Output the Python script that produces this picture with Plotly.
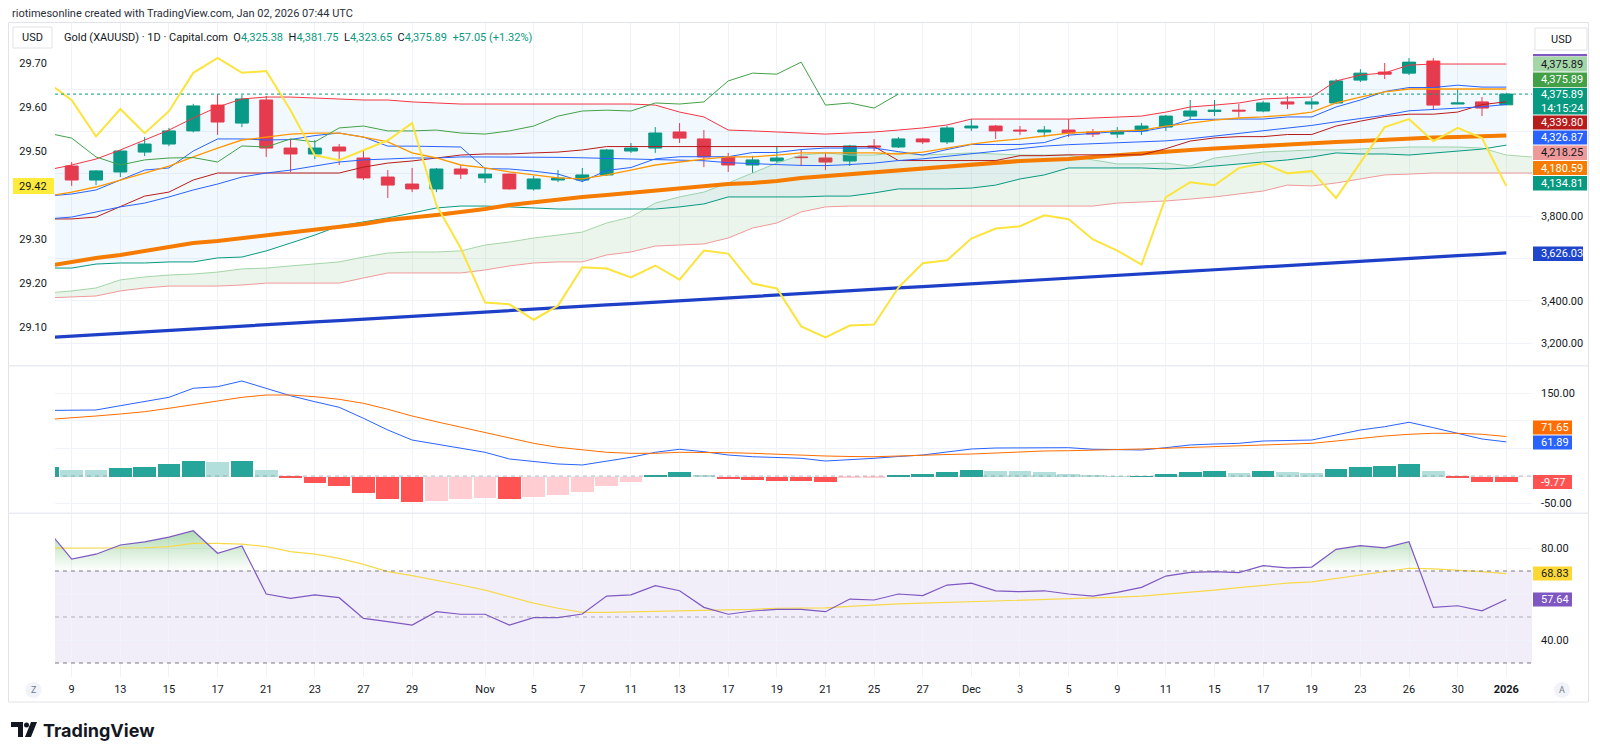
import plotly.graph_objects as go

W, H = 1600, 756
X_LEFT, X_RIGHT = 55, 1532
BAR0, BAR_W = 71.7, 24.315
FONT = "Roboto, Arial, sans-serif"
TXT = "#131722"

def px(x):
    return x / W

def py(y):
    return 1 - y / H

# ---------------- data ----------------
tick_idx = [0, 2, 4, 6, 8, 10, 12, 14, 17, 19, 21, 23, 25, 27, 29, 31, 33, 35, 37,
            39, 41, 43, 45, 47, 49, 51, 53, 55, 57, 59]
tick_text = ["9", "13", "15", "17", "21", "23", "27", "29", "Nov", "5", "7", "11", "13",
             "17", "19", "21", "25", "27", "Dec", "3", "5", "9", "11", "15", "17", "19",
             "23", "26", "30", "<b>2026</b>"]

open_ = [4036, 3970, 4008, 4102, 4140, 4202, 4324, 4239, 4348, 4121, 4093, 4126, 4074, 3984,
         3951, 3928, 4022, 3980, 3998, 3928, 3970, 3970, 3994, 4107, 4121, 4197, 4164, 4079,
         4041, 4060, 4079, 4074, 4060, 4131, 4126, 4164, 4150, 4216, 4225, 4206, 4197, 4206,
         4197, 4187, 4202, 4220, 4272, 4294, 4300, 4296, 4339, 4329, 4334, 4442, 4480, 4475,
         4532, 4329, 4339, 4325.38]
high_ = [4055, 4017, 4112, 4173, 4216, 4330, 4376, 4371, 4367, 4164, 4159, 4140, 4112, 4017,
         4027, 4027, 4041, 4027, 4000, 3990, 4017, 4027, 4117, 4145, 4220, 4239, 4206, 4098,
         4084, 4126, 4112, 4098, 4136, 4164, 4173, 4169, 4225, 4258, 4230, 4225, 4225, 4258,
         4211, 4220, 4240, 4277, 4348, 4348, 4329, 4343, 4367, 4357, 4447, 4494, 4523, 4546,
         4546, 4400, 4362, 4381.75]
low_ = [3942, 3946, 3984, 4083, 4130, 4195, 4183, 4220, 4079, 4008, 4069, 4041, 3970, 3885,
        3913, 3913, 3975, 3956, 3925, 3920, 3960, 3960, 3990, 4098, 4098, 4145, 4031, 4008,
        4003, 4050, 4036, 4017, 4036, 4107, 4121, 4140, 4140, 4202, 4164, 4183, 4173, 4173,
        4173, 4169, 4183, 4202, 4253, 4272, 4268, 4290, 4305, 4305, 4329, 4433, 4447, 4466,
        4301, 4329, 4272, 4323.65]
close_ = [3970, 4013, 4107, 4140, 4202, 4320, 4244, 4353, 4121, 4093, 4121, 4107, 3980, 3946,
          3928, 4022, 3998, 3998, 3928, 3975, 3979, 3994, 4112, 4121, 4192, 4168, 4079, 4041,
          4065, 4074, 4076, 4055, 4131, 4126, 4164, 4150, 4216, 4225, 4202, 4202, 4206, 4192,
          4187, 4202, 4225, 4272, 4296, 4300, 4296, 4334, 4329, 4339, 4438, 4475, 4470, 4527,
          4324, 4334, 4310, 4375.89]
change_abs, change_pct = 57.05, 1.32
countdown = "14:15:24"
span_b_label = 4218.25

# scale ticks (grid at all); labels hidden where TradingView's value tags cover them
price_ticks = [3200, 3400, 3600, 3800, 4000, 4200, 4400]
price_ticks_shown = [3200, 3400, 3800]
left_ticks = [29.1, 29.2, 29.3, 29.4, 29.5, 29.6, 29.7]
left_ticks_shown = [29.1, 29.2, 29.3, 29.5, 29.6, 29.7]
macd_ticks = [-50, 0, 50, 100, 150]
macd_ticks_shown = [-50, 150]
rsi_ticks = [40, 60, 80]
rsi_ticks_shown = [40, 80]

# indicators from bar -1 (Oct 8) to bar 59 (Jan 2)
bb_upper = [4017, 4041, 4069, 4112, 4159, 4206, 4263, 4315, 4353, 4362, 4362, 4357, 4353, 4348,
            4348, 4339, 4334, 4329, 4329, 4329, 4329, 4329, 4329, 4329, 4329, 4324, 4291, 4268,
            4206, 4202, 4197, 4192, 4187, 4192, 4197, 4206, 4216, 4230, 4258, 4258, 4258, 4258,
            4258, 4263, 4268, 4272, 4291, 4315, 4324, 4334, 4353, 4357, 4362, 4438, 4466, 4476,
            4513, 4518, 4518, 4518, 4518]
bb_basis = [3786, 3795, 3819, 3843, 3861, 3890, 3923, 3951, 3984, 4003, 4017, 4036, 4055, 4065,
            4069, 4074, 4074, 4079, 4079, 4079, 4078, 4077, 4075, 4072, 4070, 4068, 4066, 4061,
            4052, 4046, 4043, 4039, 4038, 4043, 4050, 4062, 4070, 4082, 4094, 4105, 4116, 4130,
            4137, 4142, 4147, 4150, 4155, 4165, 4178, 4190, 4204, 4215, 4228, 4245, 4262, 4276,
            4297, 4303, 4310, 4316, 4326.87]
bb_lower = [3554, 3554, 3573, 3578, 3578, 3583, 3583, 3602, 3606, 3635, 3672, 3710, 3753, 3772,
            3791, 3814, 3838, 3847, 3847, 3843, 3838, 3833, 3833, 3833, 3833, 3833, 3843, 3857,
            3890, 3890, 3890, 3890, 3894, 3894, 3909, 3928, 3928, 3928, 3932, 3946, 3975, 3994,
            4027, 4027, 4027, 4027, 4022, 4027, 4036, 4046, 4055, 4065, 4079, 4098, 4093, 4093,
            4088, 4098, 4107, 4116, 4134.81]
tenkan = [3894, 3904, 3923, 3970, 4017, 4027, 4107, 4164, 4164, 4159, 4161, 4180, 4192, 4173,
          4130, 4130, 4128, 4126, 4024, 4022, 4012, 3998, 3963, 4015, 4029, 4070, 4080, 4080,
          4080, 4100, 4100, 4114, 4121, 4121, 4121, 4104, 4088, 4114, 4138, 4138, 4138, 4147,
          4182, 4190, 4199, 4199, 4220, 4256, 4258, 4258, 4258, 4268, 4268, 4315, 4348, 4388,
          4407, 4407, 4418, 4409, 4409]
kijun = [3786, 3786, 3795, 3843, 3894, 3913, 3970, 4003, 4003, 4003, 4003, 4003, 4003, 4031,
         4050, 4060, 4074, 4088, 4093, 4093, 4098, 4102, 4112, 4128, 4128, 4128, 4128, 4128,
         4128, 4128, 4128, 4128, 4128, 4128, 4128, 4062, 4062, 4062, 4062, 4062, 4085, 4085,
         4089, 4089, 4089, 4089, 4118, 4154, 4169, 4175, 4175, 4185, 4185, 4225, 4248, 4270,
         4281, 4281, 4291, 4326, 4339.80]
ema_fast = [3894, 3913, 3937, 3970, 4003, 4036, 4079, 4121, 4159, 4173, 4187, 4192, 4192, 4173,
            4150, 4098, 4074, 4041, 4027, 4008, 3994, 3980, 3975, 3994, 4017, 4041, 4055, 4069,
            4079, 4079, 4088, 4098, 4098, 4098, 4098, 4093, 4102, 4121, 4140, 4154, 4164, 4178,
            4192, 4197, 4202, 4206, 4225, 4239, 4253, 4263, 4268, 4277, 4291, 4334, 4362, 4386,
            4400, 4400, 4400, 4400, 4400]
ema_slow = [3564, 3583, 3602, 3616, 3635, 3654, 3672, 3682, 3696, 3710, 3722, 3734, 3748, 3762,
            3781, 3791, 3805, 3819, 3833, 3852, 3866, 3880, 3890, 3899, 3909, 3923, 3932, 3942,
            3951, 3956, 3965, 3980, 3989, 3998, 4008, 4017, 4022, 4031, 4041, 4050, 4060, 4065,
            4069, 4079, 4088, 4098, 4105, 4112, 4119, 4126, 4131, 4138, 4145, 4150, 4154, 4159,
            4168, 4171, 4173, 4176, 4180.59]
sma_long = [3226, 3233, 3240, 3246, 3253, 3260, 3266, 3273, 3280, 3286, 3293, 3300, 3306, 3313,
            3320, 3326, 3333, 3340, 3346, 3353, 3360, 3366, 3373, 3380, 3386, 3393, 3400, 3406,
            3413, 3420, 3426, 3433, 3440, 3446, 3453, 3460, 3466, 3473, 3480, 3486, 3493, 3500,
            3506, 3513, 3520, 3526, 3533, 3540, 3546, 3553, 3560, 3566, 3573, 3580, 3586, 3593,
            3600, 3606, 3613, 3619, 3626.03]
yellow_left = [29.656, 29.615, 29.533, 29.595, 29.540, 29.590, 29.677, 29.711, 29.677, 29.681,
               29.592, 29.490, 29.479, 29.502, 29.524, 29.563, 29.377, 29.279, 29.156, 29.152,
               29.117, 29.149, 29.236, 29.233, 29.213, 29.240, 29.208, 29.274, 29.267, 29.199,
               29.188, 29.102, 29.077, 29.104, 29.106, 29.190, 29.245, 29.252, 29.301, 29.324,
               29.329, 29.354, 29.345, 29.299, 29.274, 29.242, 29.395, 29.429, 29.422, 29.461,
               29.472, 29.449, 29.454, 29.393, 29.474, 29.554, 29.572, 29.522, 29.552, 29.529,
               29.42]
# leading spans: bar -1 to bar 61
span_a = [3436, 3446, 3460, 3498, 3512, 3521, 3526, 3535, 3550, 3554, 3564, 3573, 3583, 3606,
          3625, 3630, 3630, 3635, 3663, 3677, 3696, 3710, 3724, 3767, 3795, 3861, 3890, 3913,
          3956, 4003, 4050, 4088, 4098, 4088, 4088, 4098, 4088, 4093, 4098, 4093, 4088, 4088,
          4088, 4065, 4046, 4046, 4050, 4036, 4074, 4088, 4102, 4107, 4112, 4112, 4116, 4121,
          4126, 4126, 4126, 4121, 4088, 4079, 4074]
span_b = [3413, 3417, 3422, 3446, 3460, 3469, 3469, 3469, 3474, 3483, 3483, 3483, 3483, 3507,
          3531, 3531, 3531, 3531, 3545, 3564, 3578, 3583, 3583, 3616, 3630, 3658, 3663, 3668,
          3696, 3743, 3767, 3819, 3843, 3847, 3847, 3847, 3847, 3847, 3847, 3847, 3847, 3847,
          3847, 3847, 3861, 3866, 3871, 3880, 3890, 3904, 3918, 3946, 3942, 3956, 3975, 3994,
          3998, 4003, 4003, 4003, 4003, 4003, 4003]
macd_line = [119, 118.9, 119.8, 127.6, 134.8, 142.8, 159.2, 162.1, 172.4, 159.2, 145.7, 134.8,
             124.7, 104.7, 83.5, 65.3, 58.1, 50.3, 43, 30.9, 26, 21.8, 20, 27.2, 33.9, 43, 48.5,
             44.1, 38.1, 35, 33.2, 32.1, 27.2, 29, 32.1, 35.4, 38.1, 43.6, 49, 50.8, 51.4, 51.4,
             51.4, 48.5, 47.2, 47.2, 51.4, 56.3, 58.1, 59.3, 63.5, 64.1, 65.3, 74.4, 83.5, 89.5,
             97.5, 87.7, 77.5, 67.2, 61.89]
macd_signal = [102.5, 105.3, 108.9, 112.5, 116.7, 122.9, 130.1, 136.1, 142.8, 147, 147, 143.9,
               139.2, 131.9, 121.1, 108.9, 98.5, 88.4, 79.3, 68.4, 59.3, 52.1, 47.2, 43, 41.2,
               41.2, 43, 43, 42.3, 41.2, 39.4, 38.1, 36.3, 35.4, 35, 36.3, 38.1, 39, 39.9, 41.7,
               44.1, 45.4, 45.9, 46.6, 47.2, 49, 50.3, 51.7, 53.2, 54.4, 56.3, 58.1, 59.3, 63.5,
               68.4, 72.6, 75.7, 77.5, 77.5, 75.7, 71.65]
macd_hist = [18, 12.7, 11, 16.3, 18, 21.8, 29, 26, 29, 12.7, -3, -10.9, -17.5, -30.2, -40.5,
             -46.6, -43.6, -41.7, -38.7, -40.5, -37.5, -33.8, -28.4, -17.5, -9.1, 2.4, 7.3, 2.4,
             -4.8, -6, -7.9, -8.3, -9.1, -3, -1.8, 3, 4.8, 7.9, 10.9, 10.3, 9.1, 7.3, 4.2, 1.8,
             0.3, 0.6, 4.2, 7.3, 9.1, 6.7, 9.1, 8.8, 6.7, 13.3, 18.1, 18.4, 21.8, 9.1, -3, -9.1,
             -9.77]
rsi = [88, 75.2, 77.3, 81.3, 82.7, 84.7, 87.5, 77.7, 80.9, 60, 58.1, 59.6, 58.4, 49.4, 48, 46.5,
       52.3, 51.2, 51.2, 46.5, 49.7, 49.7, 51.3, 59.1, 59.6, 63.6, 61.4, 54.2, 51.2, 52.6, 53.3,
       53.3, 52.3, 57.8, 57.4, 60, 59.3, 63.9, 64.7, 61.4, 61, 61.4, 60, 59.1, 60.7, 62.9, 67.8,
       69.4, 69.7, 69.3, 72.3, 71.4, 71.7, 79.4, 81, 80.1, 82.7, 54.2, 54.9, 52.7, 57.64]
rsi_ma = [79.9, 79.9, 79.9, 80, 80.1, 80.6, 82, 82, 81.7, 80.6, 78.4, 77.3, 75.5, 72.9, 69.7, 68,
          66.1, 63.9, 61.7, 58.8, 56, 53.8, 52, 52, 52.2, 52.3, 52.6, 52.7, 53, 53.3, 53.8, 53.8,
          54, 54.6, 55.2, 55.7, 56, 56.3, 56.7, 56.9, 57.1, 57.4, 57.7, 58.1, 58.6, 59.1, 59.9,
          60.7, 61.7, 62.8, 63.9, 64.7, 65.3, 66.7, 68.3, 69.7, 71.2, 70.9, 70.4, 69.7, 68.83]

bars = list(range(len(close_)))
ind_x = list(range(-1, len(close_)))
span_x = list(range(-1, len(span_a) - 1))
lag_start = 24
lag_x = [i - 25 for i in range(lag_start, len(close_))]
lag_y = close_[lag_start:]

# ---------------- pixel <-> value mappings for the panes ----------------
def price_at(y):
    return 3800 + (216 - y) * (600 / 127)

def left_at(y):
    return 29.70 - (y - 62.7) / 440.9

def macd_at(y):
    return (476 - y) / 0.551

def rsi_at(y):
    return 70 + (571 - y) / 2.3

MAIN = (22.5, 365)
MACD = (366.5, 512.5)
RSI = (514, 677)
x_range = [(X_LEFT - BAR0) / BAR_W, (X_RIGHT - BAR0) / BAR_W]

fig = go.Figure()

def line(x, y, color, width=1, xa="x", ya="y", **kw):
    fig.add_trace(go.Scatter(x=x, y=y, mode="lines", line=dict(color=color, width=width),
                             xaxis=xa, yaxis=ya, hoverinfo="skip", **kw))

# Ichimoku cloud
line(span_x, span_b, "#EF9A9A")
line(span_x, span_a, "#A5D6A7", fill="tonexty", fillcolor="rgba(67,160,71,0.10)")
# Bollinger band fill
line(ind_x, bb_lower, "#089981")
line(ind_x, bb_upper, "#F23645", fill="tonexty", fillcolor="rgba(33,150,243,0.06)")
line(ind_x, sma_long, "#1E40C8", 3.2)
line(ind_x, ema_slow, "#F57C00", 4)
line(ind_x, kijun, "#B71C1C")
line(ind_x, tenkan, "#2962FF")
line(ind_x, bb_basis, "#2962FF")
line(ind_x, ema_fast, "#FF9800", 1.3)
line(lag_x, lag_y, "#43A047")

fig.add_trace(go.Candlestick(
    x=bars, open=open_, high=high_, low=low_, close=close_, xaxis="x", yaxis="y",
    increasing=dict(line=dict(color="#089981", width=1), fillcolor="#089981"),
    decreasing=dict(line=dict(color="#F23645", width=1), fillcolor="#F23645"),
    whiskerwidth=0, hoverinfo="skip"))

line(ind_x, yellow_left, "#FBE43C", 2, ya="y4")

# MACD
hist_colors = []
prev = None
for v in macd_hist:
    if v >= 0:
        c = "#26A69A" if (prev is None or v >= prev) else "#B2DFDB"
    else:
        c = "#FF5252" if (prev is None or v <= prev) else "#FFCDD2"
    hist_colors.append(c)
    prev = v
fig.add_trace(go.Bar(x=ind_x, y=macd_hist, marker=dict(color=hist_colors, line=dict(width=0)),
                     width=0.93, xaxis="x2", yaxis="y2", hoverinfo="skip"))
line(ind_x, macd_line, "#2962FF", xa="x2", ya="y2")
line(ind_x, macd_signal, "#FF6D00", xa="x2", ya="y2")

# RSI overbought fill
ob_x, ob_y = [], []
lvl = 70
i = 0
n = len(rsi)
while i < n:
    if rsi[i] > lvl:
        if i == 0:
            pts = [(ind_x[0], lvl)]
        else:
            t = (lvl - rsi[i - 1]) / (rsi[i] - rsi[i - 1])
            pts = [(ind_x[i - 1] + t, lvl)]
        j = i
        while j < n and rsi[j] > lvl:
            pts.append((ind_x[j], rsi[j]))
            j += 1
        if j < n:
            t = (lvl - rsi[j - 1]) / (rsi[j] - rsi[j - 1])
            pts.append((ind_x[j - 1] + t, lvl))
        else:
            pts.append((ind_x[j - 1], lvl))
        ob_x += [p[0] for p in pts] + [None]
        ob_y += [p[1] for p in pts] + [None]
        i = j
    else:
        i += 1
fig.add_trace(go.Scatter(x=ob_x, y=ob_y, mode="lines", line=dict(width=0), fill="toself",
                         fillgradient=dict(type="vertical", start=70, stop=88,
                                           colorscale=[[0, "rgba(76,175,80,0.0)"],
                                                       [1, "rgba(76,175,80,0.45)"]]),
                         xaxis="x3", yaxis="y3", hoverinfo="skip"))
line(ind_x, rsi_ma, "#F7D94C", 1.2, xa="x3", ya="y3")
line(ind_x, rsi, "#7E57C2", 1.2, xa="x3", ya="y3")

# ---------------- axes ----------------
grid = "#F0F3FA"
xcommon = dict(range=x_range, domain=[px(X_LEFT), px(X_RIGHT)], tickvals=tick_idx,
               showgrid=True, gridcolor=grid, zeroline=False, showline=False, ticks="",
               fixedrange=True)
tickfont = dict(family=FONT, size=11, color=TXT)


def labels(vals, shown, f):
    return [format(v, f) if v in shown else "" for v in vals]


fig.update_layout(
    width=W, height=H, margin=dict(l=0, r=0, t=0, b=0), paper_bgcolor="white",
    plot_bgcolor="rgba(0,0,0,0)", showlegend=False, boxgap=0.24, bargap=0,
    xaxis=dict(**xcommon, anchor="y", showticklabels=False, rangeslider=dict(visible=False)),
    xaxis2=dict(**xcommon, anchor="y2", showticklabels=False, matches="x"),
    xaxis3=dict(**xcommon, anchor="y3", showticklabels=True, ticktext=tick_text,
                tickfont=tickfont, matches="x", ticklabelstandoff=4),
    yaxis=dict(domain=[py(MAIN[1]), py(MAIN[0])], range=[price_at(MAIN[1]), price_at(MAIN[0])],
               side="right", anchor="x", tickvals=price_ticks,
               ticktext=labels(price_ticks, price_ticks_shown, ",.2f"),
               showgrid=True, gridcolor=grid, zeroline=False, ticks="",
               tickfont=tickfont, ticklabelstandoff=8),
    yaxis4=dict(overlaying="y", side="left", anchor="x",
                range=[left_at(MAIN[1]), left_at(MAIN[0])],
                tickvals=left_ticks, ticktext=labels(left_ticks, left_ticks_shown, ".2f"),
                showgrid=False, zeroline=False, ticks="", tickfont=tickfont,
                ticklabelstandoff=7),
    yaxis2=dict(domain=[py(MACD[1]), py(MACD[0])], range=[macd_at(MACD[1]), macd_at(MACD[0])],
                side="right", anchor="x2", tickvals=macd_ticks,
                ticktext=labels(macd_ticks, macd_ticks_shown, ".2f"),
                showgrid=True, gridcolor=grid, zeroline=False, ticks="", tickfont=tickfont,
                ticklabelstandoff=8),
    yaxis3=dict(domain=[py(RSI[1]), py(RSI[0])], range=[rsi_at(RSI[1]), rsi_at(RSI[0])],
                side="right", anchor="x3", tickvals=rsi_ticks,
                ticktext=labels(rsi_ticks, rsi_ticks_shown, ".2f"),
                showgrid=True, gridcolor=grid, zeroline=False, ticks="", tickfont=tickfont,
                ticklabelstandoff=8),
)

shapes = []
annots = []

# RSI band and levels
shapes.append(dict(type="rect", xref="x3 domain", yref="y3", x0=0, x1=1, y0=30, y1=70,
                   fillcolor="rgba(126,87,194,0.10)", line=dict(width=0), layer="below"))
for lv, col in [(70, "#787B86"), (50, "rgba(120,123,134,0.55)"), (30, "#787B86")]:
    shapes.append(dict(type="line", xref="x3 domain", yref="y3", x0=0, x1=1, y0=lv, y1=lv,
                       line=dict(color=col, width=1, dash="4px,4px")))
# MACD zero line
shapes.append(dict(type="line", xref="x2 domain", yref="y2", x0=0, x1=1, y0=0, y1=0,
                   line=dict(color="rgba(120,123,134,0.5)", width=1, dash="4px,4px")))
# last price line
shapes.append(dict(type="line", xref="x domain", yref="y", x0=0, x1=1, y0=close_[-1],
                   y1=close_[-1], line=dict(color="#089981", width=1, dash="dot")))

# frame and separators
shapes.append(dict(type="rect", xref="paper", yref="paper", x0=px(8.5), x1=px(1588.5),
                   y0=py(702), y1=py(22.5), line=dict(color="#E0E3EB", width=1),
                   fillcolor="rgba(0,0,0,0)", layer="above"))
for yy in (365.8, 513.3):
    shapes.append(dict(type="line", xref="paper", yref="paper", x0=px(8.5), x1=px(1588.5),
                       y0=py(yy), y1=py(yy), line=dict(color="#E9ECF2", width=1.5)))


def box(x0, x1, y0, y1, bg, text, fg="white", tx=None, size=11, border=None, center=False):
    shapes.append(dict(type="rect", xref="paper", yref="paper", x0=px(x0), x1=px(x1),
                       y0=py(y1), y1=py(y0), fillcolor=bg,
                       line=dict(width=1 if border else 0, color=border or bg), layer="above"))
    if center:
        annots.append(dict(xref="paper", yref="paper", x=px((x0 + x1) / 2), y=py((y0 + y1) / 2),
                           xanchor="center", yanchor="middle", text=text, showarrow=False,
                           font=dict(family=FONT, size=size, color=fg)))
    else:
        annots.append(dict(xref="paper", yref="paper", x=px(tx if tx else x0 + 6),
                           y=py((y0 + y1) / 2), xanchor="left", yanchor="middle", text=text,
                           showarrow=False, align="left",
                           font=dict(family=FONT, size=size, color=fg)))


def fmt(v):
    return f"{v:,.2f}"

# right-hand value labels, main pane
shapes.append(dict(type="rect", xref="paper", yref="paper", x0=px(1533), x1=px(1587),
                   y0=py(56.3), y1=py(54), fillcolor="#7E57C2", line=dict(width=0),
                   layer="above"))
RX0, RX1 = 1533, 1587
box(RX0, RX1, 56.5, 71.5, "#A5D6A7", fmt(close_[-1]), TXT)
box(RX0, RX1, 72.5, 87.3, "#43A047", fmt(close_[-1]))
box(RX0, RX1, 88, 114.5, "#089981", fmt(close_[-1]) + "<br>" + countdown)
box(RX0, RX1, 115.5, 129.5, "#B71C1C", fmt(kijun[-1]))
box(RX0, RX1, 130.5, 144.5, "#2962FF", fmt(bb_basis[-1]))
box(RX0, RX1, 145.5, 160, "#EF9A9A", fmt(span_b_label), TXT)
box(RX0, RX1, 161, 175, "#F57C00", fmt(ema_slow[-1]))
box(RX0, RX1, 176, 190.5, "#089981", fmt(bb_lower[-1]))
box(RX0, 1583, 246.5, 261, "#1E45CC", fmt(sma_long[-1]))

# MACD labels
box(RX0, 1572, 420.5, 434.5, "#FF6D00", f"{macd_signal[-1]:.2f}")
box(RX0, 1572, 435.5, 449.5, "#2962FF", f"{macd_line[-1]:.2f}")
box(RX0, 1572, 475, 489, "#FF5252", f"{macd_hist[-1]:.2f}")
# RSI labels
box(RX0, 1572, 566.5, 580.5, "#FDD835", f"{rsi_ma[-1]:.2f}", TXT)
box(RX0, 1572, 592.5, 606.5, "#7E57C2", f"{rsi[-1]:.2f}")
# left label for yellow series
box(13, 54, 178, 194, "#FFEB3B", f"{yellow_left[-1]:.2f}", TXT, tx=17)

# USD boxes
box(13, 52, 27, 48, "white", "USD", TXT, border="#E0E3EB", center=True)
box(1535, 1587, 28, 50, "white", "USD", TXT, border="#E0E3EB", center=True)

# Z / A buttons
for cx, letter in [(33.5, "Z"), (1562, "A")]:
    shapes.append(dict(type="circle", xref="paper", yref="paper", x0=px(cx - 8), x1=px(cx + 8),
                       y0=py(698), y1=py(682), fillcolor="#F0F3FA", line=dict(width=0),
                       layer="above"))
    annots.append(dict(xref="paper", yref="paper", x=px(cx), y=py(690), text=letter,
                       showarrow=False, xanchor="center", yanchor="middle",
                       font=dict(family=FONT, size=9, color="#787B86")))

# header and legend text
annots.append(dict(xref="paper", yref="paper", x=px(10), y=py(13), xanchor="left",
                   yanchor="middle", showarrow=False,
                   text="riotimesonline created with TradingView.com, Jan 02, 2026 07:44 UTC",
                   font=dict(family=FONT, size=11, color="#2A2E39")))
teal = "#089981"
legend_txt = ("Gold (XAUUSD) · 1D · Capital.com  "
              f"O<span style='color:{teal}'>{fmt(open_[-1])}</span>  "
              f"H<span style='color:{teal}'>{fmt(high_[-1])}</span>  "
              f"L<span style='color:{teal}'>{fmt(low_[-1])}</span>  "
              f"C<span style='color:{teal}'>{fmt(close_[-1])}</span>  "
              f"<span style='color:{teal}'>+{change_abs:.2f} (+{change_pct:.2f}%)</span>")
annots.append(dict(xref="paper", yref="paper", x=px(62), y=py(37.5), xanchor="left",
                   yanchor="middle", showarrow=False, text=legend_txt,
                   font=dict(family=FONT, size=11, color=TXT)))

# TradingView logo
shapes.append(dict(type="path", xref="paper", yref="paper",
                   path=(f"M {px(11)},{py(722)} L {px(23)},{py(722)} L {px(23)},{py(737)} "
                         f"L {px(18)},{py(737)} L {px(18)},{py(727)} L {px(11)},{py(727)} Z"),
                   fillcolor="#131722", line=dict(width=0), layer="above"))
shapes.append(dict(type="circle", xref="paper", yref="paper", x0=px(24), x1=px(29),
                   y0=py(727.5), y1=py(722.5), fillcolor="#131722", line=dict(width=0),
                   layer="above"))
shapes.append(dict(type="path", xref="paper", yref="paper",
                   path=(f"M {px(31)},{py(722)} L {px(37)},{py(722)} L {px(31)},{py(737)} "
                         f"L {px(25)},{py(737)} Z"),
                   fillcolor="#131722", line=dict(width=0), layer="above"))
annots.append(dict(xref="paper", yref="paper", x=px(41), y=py(730), xanchor="left",
                   yanchor="middle", showarrow=False, text="<b>TradingView</b>",
                   font=dict(family="Inter, Roboto, sans-serif", size=18, color="#131722")))

fig.update_layout(shapes=shapes, annotations=annots)
fig.write_html("out.html")
